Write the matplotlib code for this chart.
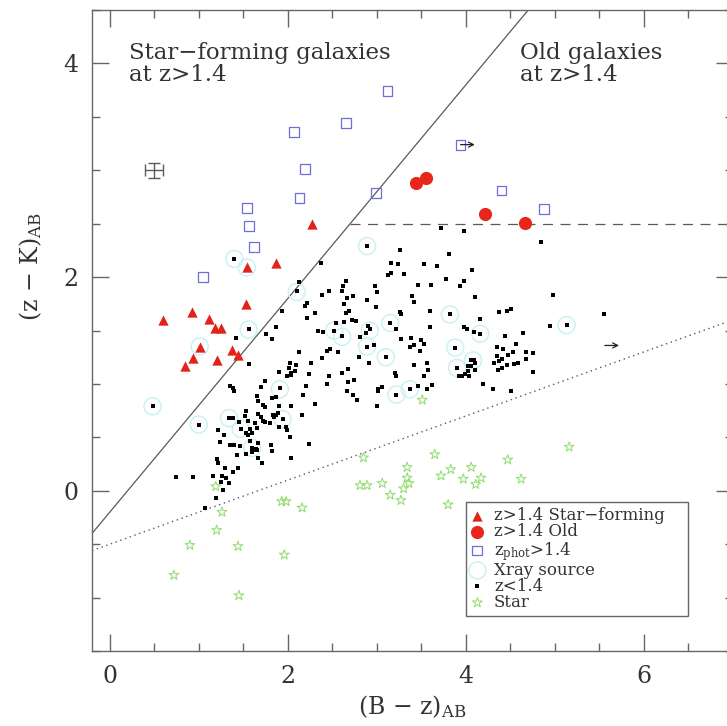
import matplotlib
matplotlib.use("Agg")
import matplotlib.pyplot as plt
import numpy as np

plt.rcParams['font.family'] = ['DejaVu Serif']
plt.rcParams['mathtext.fontset'] = 'dejavuserif'

# ---- data: ((B-z)_AB, (z-K)_AB) ----
sf_pts = [(2.27, 2.50), (1.87, 2.13), (1.54, 2.09), (1.53, 1.75), (0.92, 1.67),
          (0.60, 1.60), (1.11, 1.61), (1.18, 1.52), (1.25, 1.52), (1.01, 1.35),
          (1.37, 1.32), (1.44, 1.27), (0.93, 1.24), (1.20, 1.22), (0.85, 1.17)]

old_pts = [(3.44, 2.88), (3.55, 2.93), (4.21, 2.59), (4.66, 2.51)]

phot_pts = [(1.05, 2.00), (1.54, 2.65), (1.56, 2.48), (1.62, 2.28), (2.07, 3.36),
            (2.19, 3.01), (2.13, 2.74), (2.65, 3.44), (3.12, 3.74), (2.99, 2.79),
            (3.94, 3.24), (4.40, 2.81), (4.88, 2.64)]

xray_pts = [(0.48, 0.79), (1.00, 0.62), (1.34, 0.68), (1.47, 0.58), (1.60, 0.40),
            (1.94, 0.67), (1.91, 0.95), (1.40, 2.17), (1.56, 1.51), (2.10, 1.86),
            (2.52, 1.50), (2.61, 1.44), (2.89, 2.29), (2.89, 1.35), (2.92, 1.50),
            (3.10, 1.25), (3.15, 1.57), (3.22, 0.90), (3.37, 0.95), (3.82, 1.65),
            (3.88, 1.34), (3.90, 1.15), (4.08, 1.22), (4.16, 1.47), (5.13, 1.55),
            (1.54, 2.09), (1.01, 1.35)]

zlow_pts = [
    (1.40, 2.17), (1.56, 1.51), (1.42, 1.43), (1.56, 1.19), (1.76, 1.47), (1.82, 1.42),
    (1.87, 1.53), (1.93, 1.68), (2.10, 1.87), (2.13, 1.95), (2.12, 1.30), (2.02, 1.20),
    (2.09, 1.18), (2.01, 1.15), (2.03, 1.10), (2.04, 1.08), (1.99, 1.07), (2.08, 1.12),
    (1.90, 1.11), (1.74, 1.03), (1.70, 0.97), (1.35, 0.98), (1.38, 0.96), (1.40, 0.93),
    (1.91, 0.96), (1.65, 0.89), (1.66, 0.84), (1.72, 0.80), (1.74, 0.78), (1.82, 0.87),
    (1.87, 0.88), (1.90, 0.79), (2.04, 0.79), (2.17, 0.90), (1.53, 0.75), (1.52, 0.70),
    (1.66, 0.72), (1.70, 0.69), (1.34, 0.68), (1.38, 0.68), (1.83, 0.71), (1.87, 0.71),
    (1.89, 0.73), (1.84, 0.69), (1.94, 0.67), (1.55, 0.65), (1.72, 0.65), (1.74, 0.64),
    (1.63, 0.63), (1.80, 0.63), (1.45, 0.64), (1.21, 0.57), (1.28, 0.52), (1.47, 0.58),
    (1.58, 0.58), (1.65, 0.59), (1.90, 0.60), (1.98, 0.60), (1.99, 0.57), (1.53, 0.54),
    (1.55, 0.52), (1.60, 0.54), (2.02, 0.50), (1.24, 0.46), (1.57, 0.47), (1.35, 0.43),
    (1.40, 0.43), (1.46, 0.42), (1.67, 0.45), (1.81, 0.43), (1.60, 0.40), (1.61, 0.38),
    (1.64, 0.39), (1.65, 0.38), (1.60, 0.36), (1.82, 0.37), (1.43, 0.33), (1.53, 0.34),
    (1.66, 0.31), (1.71, 0.26), (2.03, 0.31), (1.20, 0.30), (1.21, 0.26), (1.29, 0.21),
    (1.38, 0.18), (1.44, 0.21), (0.74, 0.13), (0.93, 0.13), (1.16, 0.14), (1.26, 0.14),
    (1.31, 0.12), (1.25, 0.08), (1.34, 0.07), (1.27, 0.01), (1.19, -0.07), (1.07, -0.16),
    (0.48, 0.79), (1.00, 0.62),
    (3.72, 2.46), (3.98, 2.43), (4.84, 2.33), (2.89, 2.29), (3.26, 2.25), (3.81, 2.22),
    (2.37, 2.13), (3.16, 2.13), (3.24, 2.12), (3.53, 2.12), (3.67, 2.10), (4.07, 2.07),
    (3.13, 2.02), (3.16, 2.04), (3.31, 2.03), (3.78, 1.98), (2.65, 1.96), (3.98, 1.96),
    (3.46, 1.93), (3.61, 1.93), (3.93, 1.92), (2.62, 1.92), (2.98, 1.92), (2.46, 1.87),
    (2.61, 1.87), (3.00, 1.86), (2.38, 1.83), (2.66, 1.80), (2.73, 1.82), (3.39, 1.82),
    (4.10, 1.81), (4.98, 1.83), (2.89, 1.79), (3.42, 1.77), (2.21, 1.76), (2.19, 1.73),
    (2.63, 1.75), (2.99, 1.72), (2.31, 1.66), (2.69, 1.68), (2.65, 1.66), (3.26, 1.67),
    (3.27, 1.65), (3.60, 1.68), (3.82, 1.65), (4.37, 1.67), (4.46, 1.68), (4.51, 1.70),
    (2.21, 1.62), (2.63, 1.58), (2.72, 1.60), (2.76, 1.59), (2.54, 1.57), (4.16, 1.61),
    (3.15, 1.57), (2.52, 1.50), (2.61, 1.45), (2.34, 1.50), (2.39, 1.49), (2.90, 1.54),
    (2.92, 1.51), (2.88, 1.48), (3.22, 1.51), (3.60, 1.53), (3.98, 1.53), (4.01, 1.51),
    (4.09, 1.49), (4.16, 1.47), (4.64, 1.48), (4.94, 1.54), (5.13, 1.55), (4.44, 1.45),
    (2.81, 1.44), (3.27, 1.42), (3.38, 1.43), (3.49, 1.41), (3.53, 1.37), (3.37, 1.35),
    (3.42, 1.36), (2.97, 1.36), (2.89, 1.35), (3.88, 1.34), (3.48, 1.31), (3.10, 1.25),
    (2.47, 1.33), (2.44, 1.31), (2.56, 1.30), (2.80, 1.25), (2.26, 1.20), (2.38, 1.24),
    (2.91, 1.20), (3.42, 1.18), (3.56, 1.20), (3.57, 1.13),
    (4.06, 1.22), (4.09, 1.22), (4.10, 1.20), (4.02, 1.17), (4.06, 1.17), (4.10, 1.13),
    (4.02, 1.12), (4.04, 1.07), (3.99, 1.09), (3.96, 1.07), (3.92, 1.07), (3.90, 1.15),
    (4.35, 1.35), (4.42, 1.33), (4.53, 1.30), (4.56, 1.37), (4.67, 1.30), (4.75, 1.29),
    (4.47, 1.27), (4.35, 1.26), (4.40, 1.23), (4.31, 1.20), (4.37, 1.21), (4.46, 1.18),
    (4.54, 1.19), (4.58, 1.20), (4.67, 1.23), (4.36, 1.13), (4.40, 1.15), (4.75, 1.11),
    (2.24, 1.09), (2.61, 1.10), (2.46, 1.07), (2.67, 1.14), (2.44, 1.00), (2.67, 1.02),
    (2.74, 1.04), (2.20, 0.98), (3.06, 0.97), (3.01, 0.95), (3.01, 0.93), (3.37, 0.95),
    (3.22, 0.90), (3.46, 0.98), (3.56, 0.95), (3.62, 0.99), (2.66, 0.93), (2.73, 0.90),
    (2.78, 0.85), (2.30, 0.81), (4.19, 1.00), (4.30, 0.95), (4.51, 0.93), (3.00, 0.79),
    (2.16, 0.71), (2.24, 0.44), (3.20, 1.10), (3.21, 1.07), (3.53, 1.07), (5.55, 1.65)]

star_pts = [(1.19, 0.04), (1.93, -0.10), (1.98, -0.10), (2.16, -0.16), (1.26, -0.20),
            (1.20, -0.37), (0.90, -0.51), (1.44, -0.52), (1.96, -0.60), (0.72, -0.79),
            (1.45, -0.98), (3.51, 0.85), (2.85, 0.31), (3.65, 0.34), (3.34, 0.22),
            (3.83, 0.20), (4.06, 0.22), (3.72, 0.14), (3.97, 0.11), (4.17, 0.12),
            (4.11, 0.06), (3.34, 0.12), (3.36, 0.07), (3.30, 0.02), (2.81, 0.05),
            (2.89, 0.05), (3.06, 0.07), (3.15, -0.04), (3.27, -0.09), (3.80, -0.13),
            (4.47, 0.29), (4.62, 0.11), (5.16, 0.41)]

# objects with (B-z) lower limits, drawn as arrows
limit_pts = [(3.94, 3.24), (5.56, 1.36)]
# typical error bar
err_x, err_y, err_dx, err_dy = 0.5, 3.0, 0.1, 0.07

labels = ['z>1.4 Star\u2212forming', 'z>1.4 Old', r'z$_{\rm phot}$>1.4',
          'Xray source', 'z<1.4', 'Star']

grey = '#5a5a5a'
txt = '#333333'

fig = plt.figure(figsize=(7.27, 7.26), dpi=100)
ax = fig.add_axes([92 / 727, 75 / 726, 641 / 727, 641 / 726])
ax.set_xlim(-0.2, 7.0)
ax.set_ylim(-1.5, 4.5)

# BzK selection lines
xs = np.array([-0.2, 7.0])
ax.plot(xs, xs - 0.2, color=grey, lw=0.9, zorder=1)
ax.plot([2.7, 7.0], [2.5, 2.5], color=grey, lw=0.9, dashes=(8, 6), zorder=1)
ax.plot(xs, 0.3 * xs - 0.5, color=grey, lw=1.0, ls=(0, (1, 2.6)), zorder=1)

def arr(p):
    a = np.array(p)
    return a[:, 0], a[:, 1]

h_star = ax.scatter(*arr(star_pts), marker='*', s=55, facecolors='none',
                    edgecolors='#8edc6a', linewidths=0.7, zorder=2)
h_xray = ax.scatter(*arr(xray_pts), marker='o', s=150, facecolors='none',
                    edgecolors='#cdf1f1', linewidths=1.1, zorder=2)
h_low = ax.scatter(*arr(zlow_pts), marker='s', s=11, color='black', lw=0, zorder=3)
h_phot = ax.scatter(*arr(phot_pts), marker='s', s=50, facecolors='none',
                    edgecolors='#6e6ed8', linewidths=0.9, zorder=3)
h_sf = ax.scatter(*arr(sf_pts), marker='^', s=55, color='#e2231a', lw=0, zorder=4)
h_old = ax.scatter(*arr(old_pts), marker='o', s=90, color='#e8261c', lw=0, zorder=4)

for x, y in limit_pts:
    ax.annotate('', xy=(x + 0.16, y), xytext=(x, y),
                arrowprops=dict(arrowstyle='->', lw=0.9, color='#222222',
                                mutation_scale=9, shrinkA=0, shrinkB=0))

ax.errorbar([err_x], [err_y], xerr=[err_dx], yerr=[err_dy], fmt='none',
            ecolor=grey, elinewidth=1.0, capsize=4, capthick=1.0)

ax.text(0.21, 4.2, 'Star\u2212forming galaxies\nat z>1.4', fontsize=16.5,
        color=txt, va='top', ha='left', linespacing=1.0)
ax.text(4.61, 4.2, 'Old galaxies\nat z>1.4', fontsize=16.5,
        color=txt, va='top', ha='left', linespacing=1.0)

leg = ax.legend([h_sf, h_old, h_phot, h_xray, h_low, h_star], labels,
                loc='upper left', bbox_to_anchor=(0.583, 0.0, 0.3463, 0.232),
                mode='expand', borderaxespad=0,
                fontsize=12, labelspacing=-0.05, handlelength=0.8, handletextpad=0.6,
                borderpad=0.3, scatterpoints=1, fancybox=False, framealpha=1,
                edgecolor='#666666', labelcolor=txt)
leg.get_frame().set_linewidth(1.0)

# axes styling
ax.set_xticks([0, 2, 4, 6])
ax.set_xticks(np.arange(0, 7.01, 0.5), minor=True)
ax.set_yticks([0, 2, 4])
ax.set_yticks(np.arange(-1.5, 4.51, 0.5), minor=True)
ax.tick_params(which='both', direction='in', top=True, right=True,
               color='#666666', width=1.0, labelsize=17, labelcolor=txt, pad=10)
ax.tick_params(which='major', length=12)
ax.tick_params(which='minor', length=6)
for sp in ax.spines.values():
    sp.set_color('#666666')
    sp.set_linewidth(1.0)

ax.set_xlabel(r'(B $-$ z)$_{\rm AB}$', fontsize=17, color=txt)
ax.set_ylabel(r'(z $-$ K)$_{\rm AB}$', fontsize=17, color=txt)
ax.xaxis.set_label_coords(0.5, -0.066)
ax.yaxis.set_label_coords(-0.075, 0.6)

fig.savefig('out.png', dpi=100)
